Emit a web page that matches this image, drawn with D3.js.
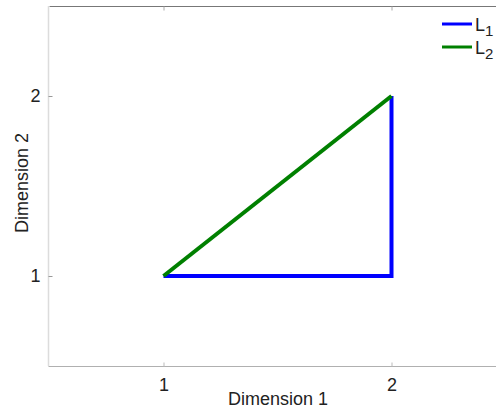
<!DOCTYPE html>
<html>
<head>
<meta charset="utf-8">
<script src="https://cdn.jsdelivr.net/npm/d3@7"></script>
<style>
  html, body { margin: 0; padding: 0; background: #fff; }
  svg { display: block; }
  text { font-family: "Liberation Sans", Arial, Helvetica, sans-serif; fill: #222; }
</style>
</head>
<body>
<script>
// Two paths through the same pair of corner points
const seriesNames = ["L1", "L2"];
const seriesColors = ["#0000ff", "#008000"];
const l1X = [1, 2, 2];
const l1Y = [1, 1, 2];
const l2X = [1, 2];
const l2Y = [1, 2];
const xTicks = [1, 2];
const yTicks = [1, 2];
const xDomain = [0.5, 2.5];
const yDomain = [0.5, 2.5];

const W = 496, H = 408;
const plotLeft = 49.5, plotTop = 6, plotBottom = 366;

const svg = d3.select("body").append("svg").attr("width", W).attr("height", H);

const x = d3.scaleLinear().domain(xDomain).range([plotLeft, 505.5]);
const y = d3.scaleLinear().domain(yDomain).range([plotBottom, plotTop]);

// Frame lines
svg.append("line").attr("x1", plotLeft).attr("x2", W).attr("y1", plotTop + 0.5).attr("y2", plotTop + 0.5)
  .attr("stroke", "#777").attr("stroke-width", 1);
svg.append("line").attr("x1", plotLeft - 1).attr("x2", plotLeft - 1).attr("y1", plotTop).attr("y2", plotBottom)
  .attr("stroke", "#dcdcdc").attr("stroke-width", 1.5);
svg.append("line").attr("x1", plotLeft - 1).attr("x2", W).attr("y1", plotBottom + 0.5).attr("y2", plotBottom + 0.5)
  .attr("stroke", "#b0b0b0").attr("stroke-width", 1);

// Bottom axis: inward ticks
const xAxis = d3.axisBottom(x).tickValues(xTicks).tickSize(-4).tickPadding(12).tickFormat(d3.format("d"));
const gx = svg.append("g").attr("transform", `translate(0,${plotBottom + 0.5})`).call(xAxis);
gx.select(".domain").remove();
gx.selectAll(".tick line").attr("stroke", "#bbb");
gx.selectAll(".tick text").attr("font-size", 18).attr("fill", "#222")
  .attr("font-family", "Liberation Sans, Arial, sans-serif");

// Top axis ticks (no labels)
const xTop = d3.axisTop(x).tickValues(xTicks).tickSize(-4).tickFormat("");
const gt = svg.append("g").attr("transform", `translate(0,${plotTop + 0.5})`).call(xTop);
gt.select(".domain").remove();
gt.selectAll(".tick line").attr("stroke", "#aaa");

// Left axis: inward ticks
const yAxis = d3.axisLeft(y).tickValues(yTicks).tickSize(-4).tickPadding(8).tickFormat(d3.format("d"));
const gy = svg.append("g").attr("transform", `translate(${plotLeft - 1},0)`).call(yAxis);
gy.select(".domain").remove();
gy.selectAll(".tick line").attr("stroke", "#999");
gy.selectAll(".tick text").attr("font-size", 18).attr("fill", "#222")
  .attr("font-family", "Liberation Sans, Arial, sans-serif");

// Axis titles
svg.append("text").attr("x", 278).attr("y", 405).attr("text-anchor", "middle")
  .attr("font-size", 18).text("Dimension 1");
svg.append("text").attr("transform", "translate(28,183) rotate(-90)").attr("text-anchor", "middle")
  .attr("font-size", 18).text("Dimension 2");

// Series
const line = d3.line().x(d => x(d[0])).y(d => y(d[1]));
const series = [
  d3.zip(l1X, l1Y),
  d3.zip(l2X, l2Y)
];
series.forEach((pts, i) => {
  svg.append("path").datum(pts).attr("d", line)
    .attr("fill", "none").attr("stroke", seriesColors[i]).attr("stroke-width", 4)
    .attr("stroke-linejoin", "miter").attr("stroke-linecap", "butt");
});

// Legend
const legY = [24, 47];
seriesNames.forEach((name, i) => {
  svg.append("line").attr("x1", 442).attr("x2", 472).attr("y1", legY[i]).attr("y2", legY[i])
    .attr("stroke", seriesColors[i]).attr("stroke-width", 3);
  const t = svg.append("text").attr("x", 475).attr("y", legY[i] + 7).attr("font-size", 18);
  t.append("tspan").text(name[0]);
  t.append("tspan").attr("dy", 5).attr("font-size", 15).text(name.slice(1));
});
</script>
</body>
</html>
